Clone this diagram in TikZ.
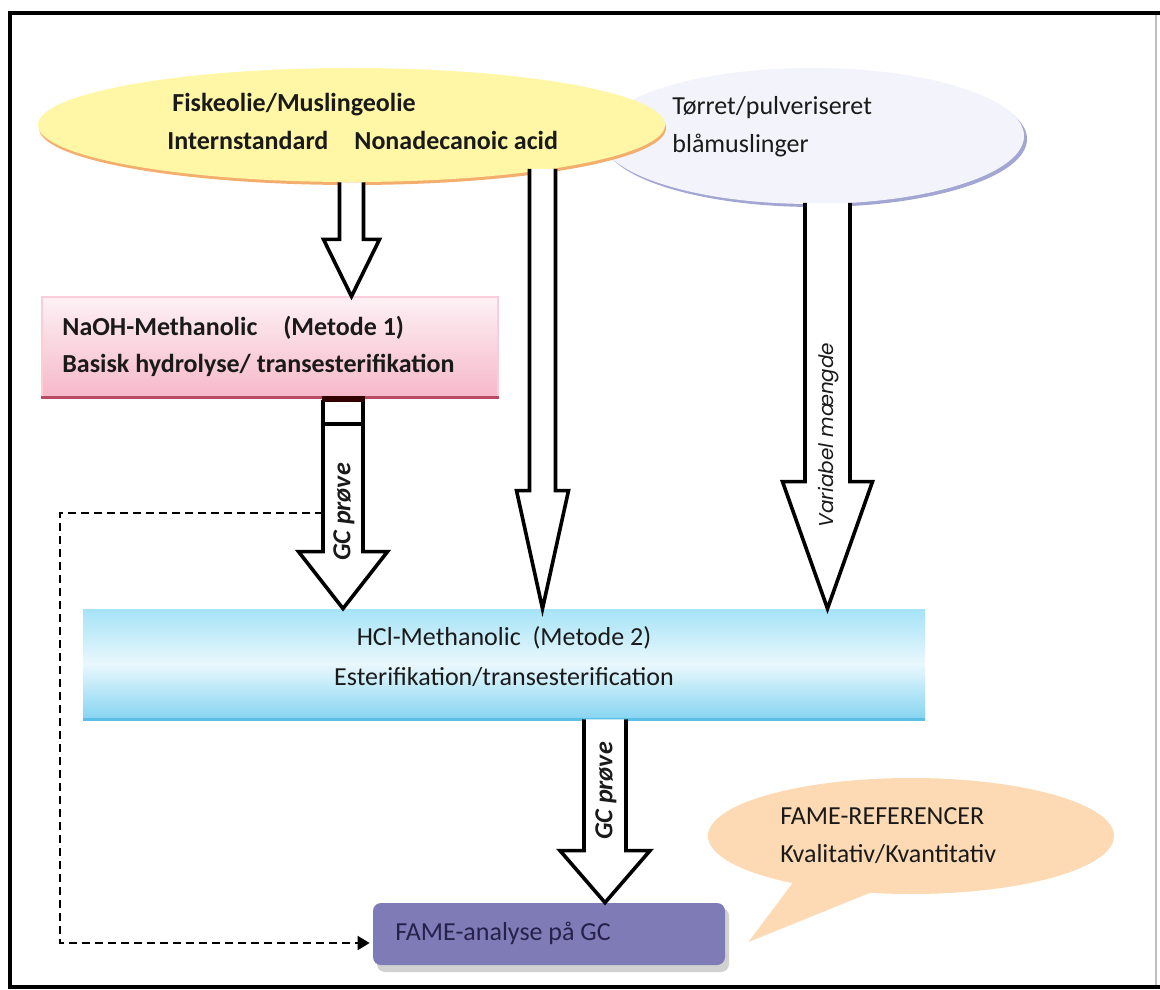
\documentclass[tikz,border=0pt]{standalone}
\usepackage{fontspec}
\setmainfont{Carlito}
\newfontfamily\gothicfont{Poppins}
\usetikzlibrary{calc,shapes.geometric,shapes.callouts,arrows.meta}

\definecolor{ink}{HTML}{1A1A1A}
\definecolor{oilyellow}{HTML}{FFF7A6}
\definecolor{oilrim}{HTML}{F3AE6E}
\definecolor{milkfill}{HTML}{F3F3FB}
\definecolor{milkrim}{HTML}{A3A6D2}
\definecolor{pinktop}{HTML}{FDF1F5}
\definecolor{pinkbot}{HTML}{F6B8C9}
\definecolor{pinkedge}{HTML}{B84A63}
\definecolor{bluetop}{HTML}{A6E3F7}
\definecolor{bluemid}{HTML}{E9F8FD}
\definecolor{bluebot}{HTML}{86D4F2}
\definecolor{blueedge}{HTML}{5CBFE6}
\definecolor{famefill}{HTML}{7F7BB6}
\definecolor{fameink}{HTML}{25214A}
\definecolor{peach}{HTML}{FDDAB3}

% block arrow: [options]{top}{tip}{shaft half width}{head half width}{head length}
\newcommand\blockarr[6][]{%
  \draw[blockarrow,#1] ($#2+(-#4,0)$) -- ($#3+(-#4,-#6)$) -- ($#3+(-#5,-#6)$)
    -- #3 -- ($#3+(#5,-#6)$) -- ($#3+(#4,-#6)$) -- ($#2+(#4,0)$);}

\begin{document}
\begin{tikzpicture}[x=0.5pt,y=-0.5pt,
  txt/.style={inner sep=0pt, text=ink, font=\fontsize{13}{19}\selectfont},
  blockarrow/.style={draw=black, fill=white, line width=1.8pt, line join=miter},
  oilell/.style={ellipse, inner sep=0pt, minimum width=313.5pt, minimum height=57pt, fill=oilyellow},
  milkell/.style={ellipse, inner sep=0pt, minimum width=212pt, minimum height=68pt, fill=milkfill},
  naohbox/.style={inner sep=0pt, minimum width=228pt, minimum height=50pt, top color=pinktop, bottom color=pinkbot, draw=pinkbot!70, line width=0.6pt},
  hclbox/.style={inner sep=0pt, minimum width=421pt, minimum height=55pt, top color=bluetop, bottom color=bluebot, middle color=bluemid},
  famebox/.style={inner sep=0pt, minimum width=176pt, minimum height=31pt, rounded corners=4pt, fill=famefill},
  refcallout/.style={ellipse callout, inner sep=0pt, minimum width=203pt, minimum height=58pt, fill=peach, callout pointer arc=24},
  arrowlabel/.style={inner sep=0pt, rotate=90, text=ink, font=\fontsize{13}{15}\selectfont\bfseries\itshape},
  dashlink/.style={line width=1pt, dash pattern=on 4pt off 2.5pt, -{Triangle[length=6pt,width=7pt]}},
]
\useasboundingbox (0,0) rectangle (1160,989);
\fill[white] (0,0) rectangle (1160,989);

% outer frame
\draw[black!25, line width=0.6pt] (1156,13) -- (1156,987);
\draw[black, line width=1.8pt] (1160,13) -- (10,13) -- (10,987) -- (1160,987);

% starting materials
\fill[milkrim] (815,139) ellipse [x radius=106pt, y radius=34pt];
\node[milkell] (milk) at (812,136) {};
\fill[oilrim] (352.5,128) ellipse [x radius=156.75pt, y radius=28.5pt];
\node[oilell] (oil) at (351.5,125) {};

\node[txt, font=\fontsize{13}{19}\selectfont\bfseries, align=left, anchor=west] (oiltext) at (167,121)
  {\hspace{2.5pt}Fiskeolie/Muslingeolie\\Internstandard\quad Nonadecanoic acid};
\node[txt, align=left, anchor=west] (milktext) at (672,127)
  {Tørret/pulveriseret\\blåmuslinger};

% method boxes
\node[naohbox] (naoh) at (270,347) {};
\draw[pinkedge, line width=1.2pt] (naoh.south west) -- (naoh.south east);
\node[txt, font=\fontsize{13}{18.5}\selectfont\bfseries, align=left, anchor=west] (naohtext) at (62,346.5)
  {NaOH-Methanolic\quad (Metode 1)\\Basisk hydrolyse/ transesterifikation};

\node[hclbox] (hcl) at (504,664) {};
\draw[blueedge, line width=1.2pt] (hcl.south west) -- (hcl.south east);
\node[txt, font=\fontsize{13}{20}\selectfont, align=center] (hcltext) at (504,657)
  {HCl-Methanolic\ \ (Metode 2)\\Esterifikation/transesterification};

% analysis box
\fill[black!18, rounded corners=4pt] (377,908) rectangle (729,972);
\node[famebox] (fame) at (549,934) {};
\node[txt, text=fameink, anchor=west] (fametext) at (395,933) {FAME-analyse på GC};

% reference callout
\coordinate (calltip) at ($(fame.east)+(23,8)$);
\node[refcallout, callout absolute pointer={(calltip)}] (ref) at (911,836) {};
\node[txt, align=left, anchor=west] (reftext) at (780,836)
  {FAME-REFERENCER\\Kvalitativ/Kvantitativ};

% flow arrows
\coordinate (t1) at (oil.south |- naoh.north);
\blockarr{(oil.south)}{(t1)}{12}{28}{57}

\coordinate (a2top) at (542.5,169);
\coordinate (t2) at (a2top |- hcl.north);
\blockarr{(a2top)}{(t2)}{13}{26}{118}

\coordinate (a3top) at (827.5,203);
\coordinate (t3) at (a3top |- hcl.north);
\blockarr{(a3top)}{(t3)}{22.5}{45}{127}
\node[arrowlabel, font=\fontsize{10}{12}\gothicfont\itshape] (varlabel) at (829,435) {Variabel mængde};

\coordinate (a4top) at (343,400);
\coordinate (t4) at (a4top |- hcl.north);
\blockarr{(a4top)}{(t4)}{20}{44.5}{57}
\fill[black!80!red] (322,396) rectangle (365,402);
\draw[black, line width=2.4pt] (323,424) -- (363,424);
\node[arrowlabel] (gc1) at (344,512) {GC prøve};

\coordinate (x605) at (605,0);
\coordinate (a5top) at (hcl.south -| x605);
\coordinate (t5) at (a5top |- fame.north);
\blockarr{(a5top)}{(t5)}{21}{45}{52}
\node[arrowlabel] (gc2) at (606,791) {GC prøve};

% direct sample route to the GC
\coordinate (dashstart) at (323,513);
\draw[dashlink] (dashstart) -- (60,513) -- (60,943) -- ($(fame.west)+(-3,9)$);
\end{tikzpicture}
\end{document}
